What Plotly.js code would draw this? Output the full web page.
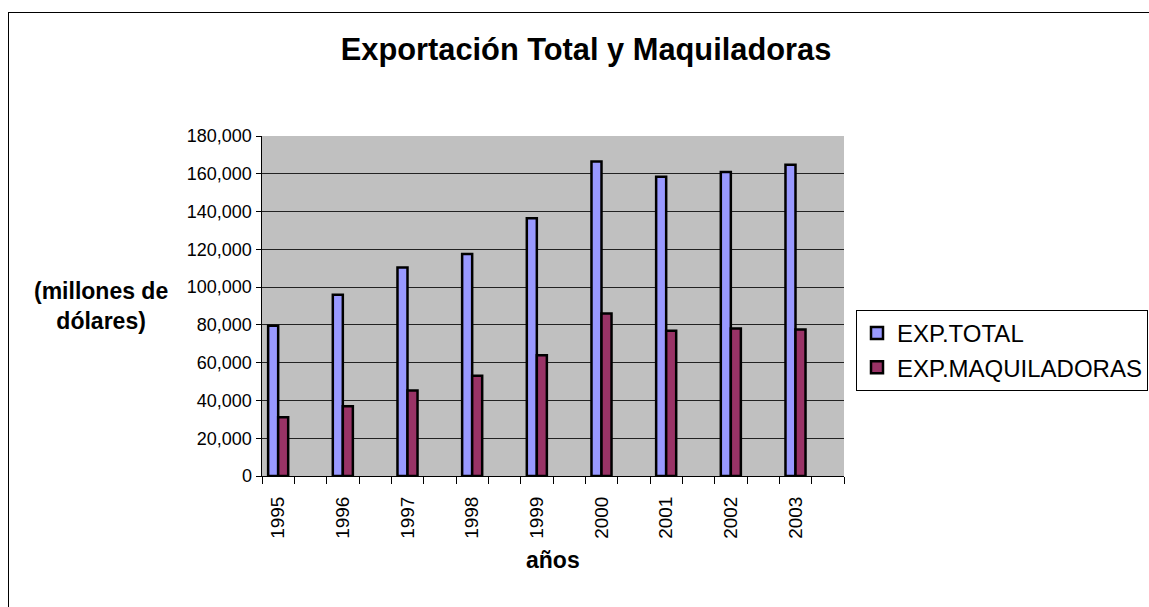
<!DOCTYPE html>
<html>
<head>
<meta charset="utf-8">
<script src="https://cdn.plot.ly/plotly-3.0.1.min.js"></script>
<style>
  html, body { margin: 0; padding: 0; background: #fff; overflow: hidden; }
  #chart { position: absolute; left: 0; top: 0; width: 1149px; height: 607px; }
  #frame { position: absolute; left: 8px; top: 12px; width: 1200px; height: 700px;
           border-left: 1px solid #000; border-top: 1px solid #000; pointer-events: none; }
</style>
</head>
<body>
<div id="chart"></div>
<div id="frame"></div>
<script>
const years = [1995, 1996, 1997, 1998, 1999, 2000, 2001, 2002, 2003];
const yearLabels = ['1995', '1996', '1997', '1998', '1999', '2000', '2001', '2002', '2003'];
const expTotal = [79500, 96000, 110400, 117500, 136400, 166500, 158400, 161000, 164800];
const expMaquiladoras = [31100, 36900, 45200, 53100, 63900, 86000, 76900, 78100, 77500];
const seriesNames = ['EXP.TOTAL', 'EXP.MAQUILADORAS'];
const yTickVals = [0, 20000, 40000, 60000, 80000, 100000, 120000, 140000, 160000, 180000];

const FONT = 'Liberation Sans, Arial, sans-serif';

// slot boundaries (half a year wide: each year + an empty slot)
const boundaries = years.flatMap(y => [y - 0.25, y + 0.25]);
boundaries.push(years[years.length - 1] + 0.75);

const traces = [
  {
    type: 'bar', name: seriesNames[0], x: years, y: expTotal,
    marker: { color: '#9999FF', line: { color: '#000', width: 2.5 } },
    legendgroup: 'a'
  },
  {
    type: 'bar', name: seriesNames[1], x: years, y: expMaquiladoras,
    marker: { color: '#993366', line: { color: '#000', width: 2.5 } },
    legendgroup: 'b'
  }
];

const layout = {
  width: 1149, height: 607,
  paper_bgcolor: 'rgba(0,0,0,0)',
  plot_bgcolor: '#C0C0C0',
  margin: { l: 262, r: 305, t: 136, b: 131, autoexpand: false },
  font: { family: FONT, color: '#000' },
  barmode: 'group', bargap: 0.69, bargroupgap: 0,
  title: {
    text: 'Exportación Total y Maquiladoras',
    font: { family: FONT, size: 30.8, weight: 'bold', color: '#000' },
    x: 586 / 1149, xanchor: 'center', xref: 'container',
    y: 0.919, yanchor: 'middle', yref: 'container'
  },
  xaxis: {
    type: 'linear',
    range: [years[0] - 0.25, years[years.length - 1] + 0.75],
    tickmode: 'array', tickvals: years, ticktext: yearLabels,
    tickangle: -90, ticks: '',
    tickfont: { family: FONT, size: 19, color: '#000' },
    ticklabelstandoff: 12,
    showgrid: false, zeroline: false,
    showline: true, linecolor: '#000', linewidth: 1,
    minor: { tickmode: 'array', tickvals: boundaries, ticks: 'outside', ticklen: 7,
             tickcolor: '#000', tickwidth: 1, showgrid: false }
  },
  yaxis: {
    range: [0, 180000],
    tickmode: 'array', tickvals: yTickVals,
    tickformat: ',d',
    ticks: 'outside', ticklen: 5, tickcolor: '#000',
    tickfont: { family: FONT, size: 18, color: '#000' },
    showgrid: true, gridcolor: '#222', gridwidth: 1,
    zeroline: false,
    showline: true, linecolor: '#000', linewidth: 1.5, mirror: false
  },
  showlegend: true,
  legend: {
    x: 1 + (856 - 844) / 582, xanchor: 'left', xref: 'paper',
    y: (476 - 310) / 340, yanchor: 'top', yref: 'paper',
    bgcolor: '#fff', bordercolor: '#000', borderwidth: 1,
    font: { family: FONT, size: 24, color: '#000' },
    traceorder: 'grouped', tracegroupgap: 0,
    itemwidth: 30
  },
  annotations: [
    {
      text: '(millones de<br>dólares)',
      xref: 'paper', yref: 'paper',
      x: (101 - 262) / 582, y: (476 - 306) / 340,
      xanchor: 'center', yanchor: 'middle', align: 'center',
      showarrow: false,
      font: { family: FONT, size: 23, weight: 'bold', color: '#000' }
    },
    {
      text: 'años',
      xref: 'paper', yref: 'paper',
      x: 0.5, y: (476 - 560) / 340,
      xanchor: 'center', yanchor: 'middle',
      showarrow: false,
      font: { family: FONT, size: 23, weight: 'bold', color: '#000' }
    }
  ]
};

Plotly.newPlot('chart', traces, layout, { displayModeBar: false, staticPlot: true });
</script>
</body>
</html>
